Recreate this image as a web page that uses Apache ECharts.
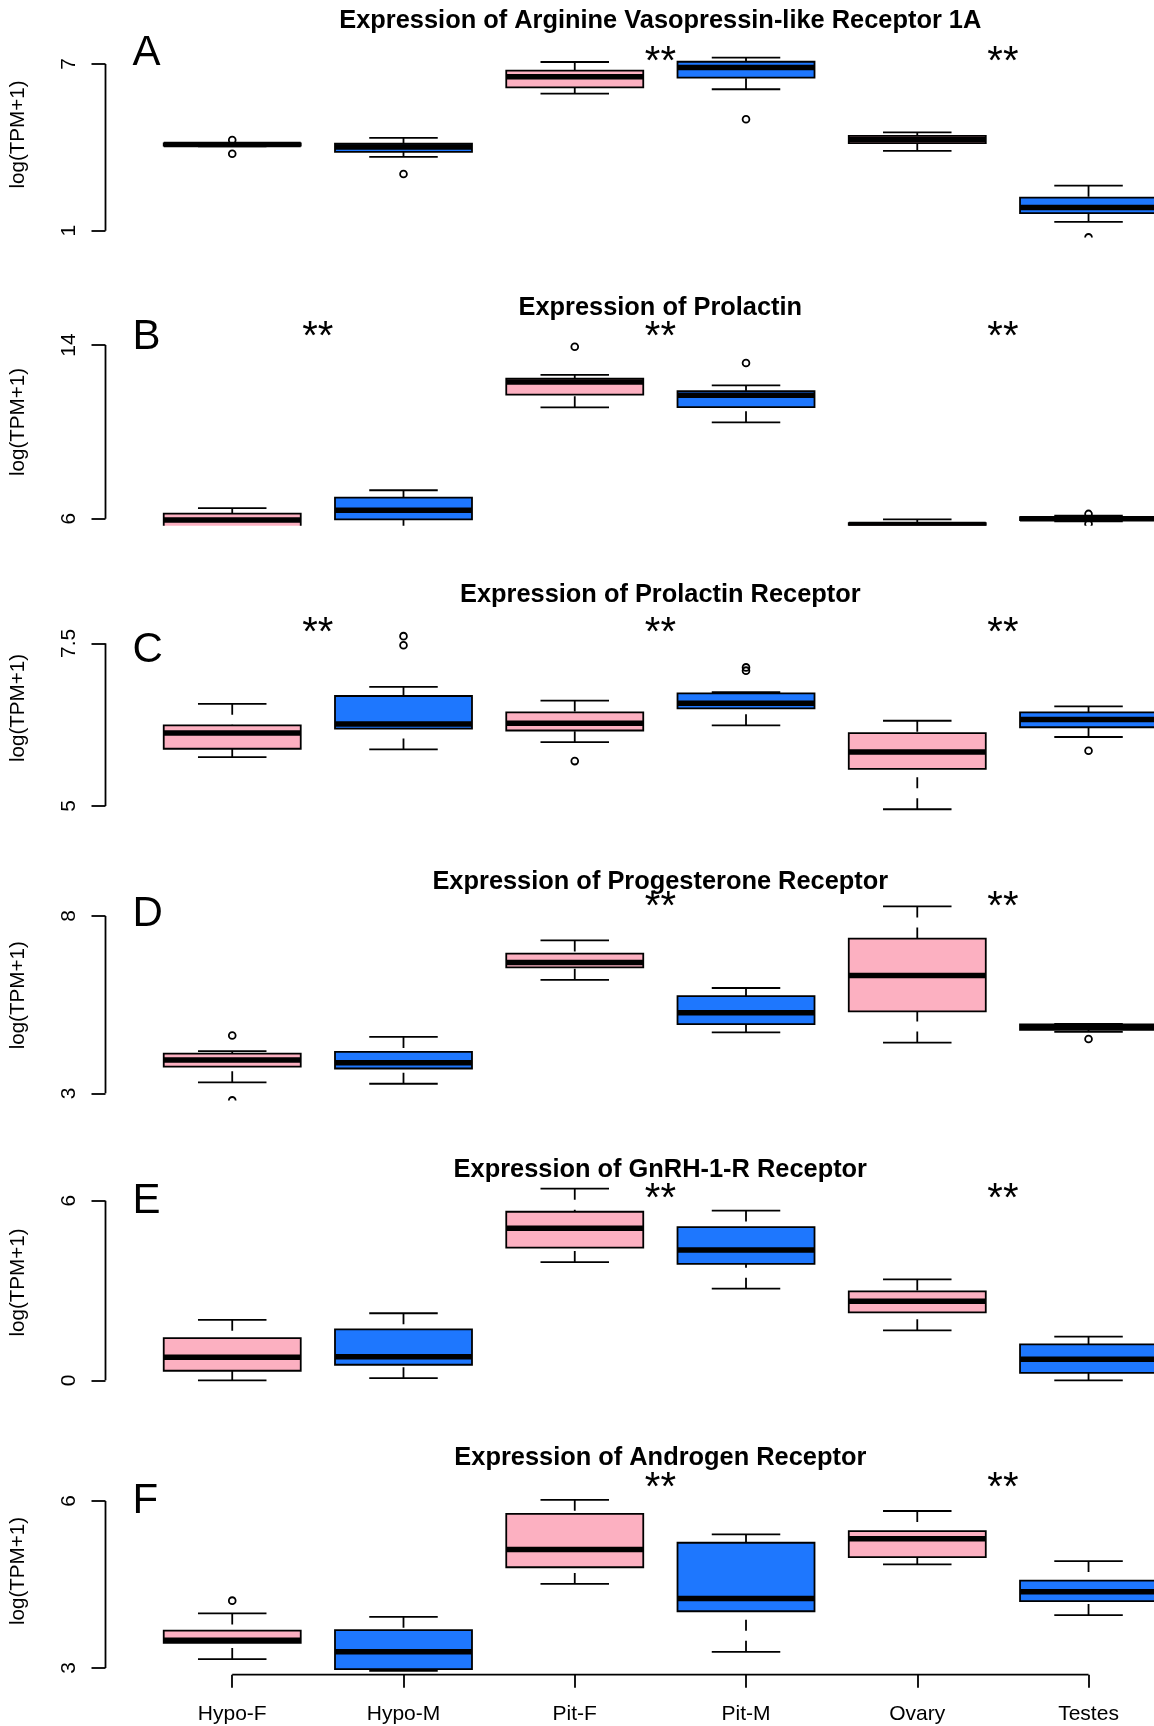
<!DOCTYPE html>
<html><head><meta charset="utf-8">
<script src="https://cdn.jsdelivr.net/npm/echarts@6/dist/echarts.min.js"></script>
<style>html,body{margin:0;padding:0;background:#fff}#main{width:1154px;height:1726px}</style>
</head><body><div id="main"></div>
<script>
// ---------------- DATA ----------------
const categories = ['Hypo-F', 'Hypo-M', 'Pit-F', 'Pit-M', 'Ovary', 'Testes'];
const panelTitles = [
  'Expression of Arginine Vasopressin-like Receptor 1A',
  'Expression of Prolactin',
  'Expression of Prolactin Receptor',
  'Expression of Progesterone Receptor',
  'Expression of GnRH-1-R Receptor',
  'Expression of Androgen Receptor'
];
const panelLetters = ['A', 'B', 'C', 'D', 'E', 'F'];
const yAxisName = 'log(TPM+1)';

// y tick labels per panel
const yTicksA = [1, 7];
const yTicksB = [6, 14];
const yTicksC = [5, 7.5];
const yTicksD = [3, 8];
const yTicksE = [0, 6];
const yTicksF = [3, 6];

// box stats per category: [lower whisker, Q1, median, Q3, upper whisker]
const statsA = [[4.04, 4.06, 4.10, 4.14, 4.16], [3.66, 3.84, 4.01, 4.13, 4.34], [5.93, 6.16, 6.54, 6.76, 7.07],
                [6.09, 6.51, 6.87, 7.08, 7.23], [3.87, 4.15, 4.28, 4.41, 4.54], [1.32, 1.63, 1.84, 2.19, 2.62]];
const statsB = [[5.30, 5.55, 5.94, 6.23, 6.49], [5.50, 5.97, 6.39, 6.97, 7.31], [11.13, 11.71, 12.30, 12.45, 12.62],
                [10.44, 11.14, 11.68, 11.88, 12.14], [5.50, 5.66, 5.73, 5.80, 5.97], [5.88, 5.93, 6.00, 6.07, 6.14]];
const statsC = [[5.75, 5.88, 6.12, 6.24, 6.57], [5.87, 6.19, 6.26, 6.69, 6.83], [5.98, 6.16, 6.27, 6.44, 6.62],
                [6.24, 6.50, 6.58, 6.73, 6.75], [4.95, 5.57, 5.83, 6.12, 6.31], [6.06, 6.21, 6.33, 6.44, 6.53]];
const statsD = [[3.31, 3.75, 3.94, 4.12, 4.19], [3.27, 3.70, 3.86, 4.17, 4.59], [6.20, 6.55, 6.69, 6.94, 7.31],
                [4.72, 4.95, 5.27, 5.74, 5.97], [4.43, 5.31, 6.32, 7.36, 8.27], [4.73, 4.79, 4.87, 4.94, 4.96]];
const statsE = [[0.00, 0.32, 0.77, 1.41, 2.02], [0.07, 0.52, 0.79, 1.70, 2.24], [3.95, 4.43, 5.08, 5.63, 6.40],
                [3.06, 3.89, 4.35, 5.12, 5.67], [1.67, 2.27, 2.64, 2.97, 3.37], [0.00, 0.25, 0.70, 1.20, 1.46]];
const statsF = [[3.16, 3.45, 3.50, 3.67, 3.98], [2.95, 2.98, 3.29, 3.68, 3.92], [4.51, 4.81, 5.13, 5.77, 6.02],
                [3.29, 4.02, 4.25, 5.25, 5.40], [4.86, 4.99, 5.32, 5.46, 5.82], [3.95, 4.20, 4.37, 4.57, 4.92]];

// outliers: [category, value]
const outliersA = [['Hypo-F', 4.26], ['Hypo-F', 3.77], ['Hypo-M', 3.04], ['Pit-M', 5.01], ['Testes', 0.76]];
const outliersB = [['Pit-F', 13.92], ['Pit-M', 13.17], ['Testes', 6.22], ['Testes', 5.76]];
const outliersC = [['Hypo-M', 7.61], ['Hypo-M', 7.47], ['Pit-F', 5.69], ['Pit-M', 7.13], ['Pit-M', 7.08], ['Testes', 5.85]];
const outliersD = [['Hypo-F', 4.63], ['Hypo-F', 2.80], ['Testes', 4.53]];
const outliersE = [];
const outliersF = [['Hypo-F', 4.21]];

// significance marks: [x position (between categories), y value]
const starsA = [[3.5, 7.36], [5.5, 7.36]];
const starsB = [[1.5, 14.73], [3.5, 14.73], [5.5, 14.73]];
const starsC = [[1.5, 7.78], [3.5, 7.78], [5.5, 7.78]];
const starsD = [[3.5, 8.47], [5.5, 8.47]];
const starsE = [[3.5, 6.34], [5.5, 6.34]];
const starsF = [[3.5, 6.37], [5.5, 6.37]];

// ---------------- STYLE / LAYOUT ----------------
const PINK = '#FCB0C1', BLUE = '#1E77FE';
const BOX_COLORS = [PINK, BLUE, PINK, BLUE, PINK, BLUE];
const FONT = '"Liberation Sans", Arial, Helvetica, sans-serif';
const LW = 1.8;
const X_MIN = 0.5 - 0.04 * 6;      // left edge of plot region
const GRID_LEFT = 105.5, GRID_WIDTH = 1154 - 105.5;
const X_MAX = X_MIN + GRID_WIDTH / 171.26;   // visible part (figure is cropped on the right)
const HEAD = 26;   // px of unclipped headroom above each plot region
const layout = [
  {top: 57.3,   height: 180.1, titleY: 20.5,   letterY: 53.3,   nameY: 134.5},
  {top: 338.05, height: 187.6, titleY: 307.7,  letterY: 337.5,  nameY: 422},
  {top: 636.8,  height: 175.7, titleY: 594.7,  letterY: 650,    nameY: 708},
  {top: 908.9,  height: 191.5, titleY: 882.3,  letterY: 914.5,  nameY: 995.3},
  {top: 1193.5, height: 194,   titleY: 1169.5, letterY: 1201.3, nameY: 1282.5},
  {top: 1494.3, height: 180.4, titleY: 1457.7, letterY: 1501.3, nameY: 1571}
];

const panels = [
  {ticks: yTicksA, stats: statsA, outliers: outliersA, stars: starsA},
  {ticks: yTicksB, stats: statsB, outliers: outliersB, stars: starsB},
  {ticks: yTicksC, stats: statsC, outliers: outliersC, stars: starsC},
  {ticks: yTicksD, stats: statsD, outliers: outliersD, stars: starsD},
  {ticks: yTicksE, stats: statsE, outliers: outliersE, stars: starsE},
  {ticks: yTicksF, stats: statsF, outliers: outliersF, stars: starsF}
];

function renderBox(params, api) {
  const xv = api.value(0);
  const lo = api.coord([xv, api.value(1)]);
  const q1 = api.coord([xv, api.value(2)]);
  const md = api.coord([xv, api.value(3)]);
  const q3 = api.coord([xv, api.value(4)]);
  const hi = api.coord([xv, api.value(5)]);
  const cx = lo[0];
  const hb = api.size([0.4, 0])[0];
  const hc = api.size([0.2, 0])[0];
  const fill = BOX_COLORS[xv - 1];
  const ls = {stroke: '#000', lineWidth: LW};
  return {type: 'group', children: [
    {type: 'line', shape: {x1: cx, y1: lo[1], x2: cx, y2: q1[1]}, style: Object.assign({lineDash: [11, 10]}, ls)},
    {type: 'line', shape: {x1: cx, y1: hi[1], x2: cx, y2: q3[1]}, style: Object.assign({lineDash: [11, 10]}, ls)},
    {type: 'line', shape: {x1: cx - hc, y1: lo[1], x2: cx + hc, y2: lo[1]}, style: ls},
    {type: 'line', shape: {x1: cx - hc, y1: hi[1], x2: cx + hc, y2: hi[1]}, style: ls},
    {type: 'rect', shape: {x: cx - hb, y: q3[1], width: 2 * hb, height: q1[1] - q3[1]},
      style: {fill: fill, stroke: '#000', lineWidth: LW}},
    {type: 'line', shape: {x1: cx - hb, y1: md[1], x2: cx + hb, y2: md[1]}, style: {stroke: '#000', lineWidth: 5.5}}
  ]};
}
function renderOutlier(params, api) {
  const p = api.coord([api.value(0), api.value(1)]);
  return {type: 'circle', shape: {cx: p[0], cy: p[1], r: 3.4}, style: {fill: 'none', stroke: '#000', lineWidth: 1.8}};
}
function renderStars(params, api) {
  const p = api.coord([api.value(0), api.value(1)]);
  return {type: 'text', x: p[0], y: p[1] + 9,
    style: {text: '**', font: '40px ' + FONT, fill: '#000', align: 'center', verticalAlign: 'middle',
            textAlign: 'center', textVerticalAlign: 'middle'}};
}

const grid = [], xAxis = [], yAxis = [], series = [], graphic = [];
panels.forEach((p, i) => {
  const L = layout[i];
  const t0 = p.ticks[0], t1 = p.ticks[p.ticks.length - 1];
  const ext = 0.04 * (t1 - t0);
  const yMin = t0 - ext, yMaxPlot = t1 + ext;
  const unitsPerPx = (yMaxPlot - yMin) / L.height;
  const yMax = yMaxPlot + HEAD * unitsPerPx;
  grid.push({left: GRID_LEFT, width: GRID_WIDTH, top: L.top - HEAD, height: L.height + HEAD, containLabel: false});
  const isLast = i === panels.length - 1;
  xAxis.push({
    gridIndex: i, type: 'value', min: X_MIN, max: X_MAX, show: isLast,
    axisLine: {show: false, onZero: false},
    splitLine: {show: false},
    axisTick: {show: isLast, customValues: [1, 2, 3, 4, 5, 6], length: 13, lineStyle: {color: '#000', width: LW}},
    axisLabel: {show: isLast, customValues: [1, 2, 3, 4, 5, 6], formatter: v => categories[Math.round(v) - 1],
      margin: 29.5, fontSize: 21, fontFamily: FONT, color: '#000'}
  });
  yAxis.push({
    gridIndex: i, type: 'value', min: yMin, max: yMax,
    axisLine: {show: false, onZero: false},
    splitLine: {show: false},
    axisTick: {show: true, customValues: p.ticks, length: 14, lineStyle: {color: '#000', width: LW}},
    axisLabel: {show: true, customValues: p.ticks, rotate: 90, margin: 25.5, fontSize: 21, fontFamily: FONT, color: '#000'}
  });
  series.push({
    type: 'custom', xAxisIndex: i, yAxisIndex: i, clip: true, silent: true,
    renderItem: renderBox,
    encode: {x: 0, y: [1, 2, 3, 4, 5]},
    data: p.stats.map((s, k) => [k + 1].concat(s))
  });
  series.push({
    type: 'custom', xAxisIndex: i, yAxisIndex: i, clip: true, silent: true,
    renderItem: renderOutlier, encode: {x: 0, y: 1},
    data: p.outliers.map(o => [categories.indexOf(o[0]) + 1, o[1]])
  });
  series.push({
    type: 'line', xAxisIndex: i, yAxisIndex: i, clip: false, silent: true, symbol: 'none',
    lineStyle: {color: '#000', width: LW},
    data: [[X_MIN, t0], [X_MIN, t1]]
  });
  if (isLast) {
    series.push({
      type: 'line', xAxisIndex: i, yAxisIndex: i, clip: false, silent: true, symbol: 'none',
      lineStyle: {color: '#000', width: LW},
      data: [[1, yMin], [6, yMin]]
    });
  }
  series.push({
    type: 'custom', xAxisIndex: i, yAxisIndex: i, clip: false, silent: true,
    renderItem: renderStars, encode: {x: 0, y: 1},
    data: p.stars
  });
  graphic.push({type: 'text', x: 660.3, y: L.titleY, silent: true,
    style: {text: panelTitles[i], font: 'bold 25.4px ' + FONT, fill: '#000',
      align: 'center', verticalAlign: 'middle', textAlign: 'center', textVerticalAlign: 'middle'}});
  graphic.push({type: 'text', x: 132.5, y: L.letterY, silent: true,
    style: {text: panelLetters[i], font: '42px ' + FONT, fill: '#000',
      align: 'left', verticalAlign: 'middle', textAlign: 'left', textVerticalAlign: 'middle'}});
  graphic.push({type: 'text', x: 18, y: L.nameY, rotation: Math.PI / 2, silent: true,
    style: {text: yAxisName, font: '20.6px ' + FONT, fill: '#000',
      align: 'center', verticalAlign: 'middle', textAlign: 'center', textVerticalAlign: 'middle'}});
});

const chart = echarts.init(document.getElementById('main'), null, {renderer: 'canvas', width: 1154, height: 1726});
chart.setOption({
  animation: false,
  backgroundColor: '#fff',
  grid: grid, xAxis: xAxis, yAxis: yAxis, series: series, graphic: graphic
});
</script></body></html>
